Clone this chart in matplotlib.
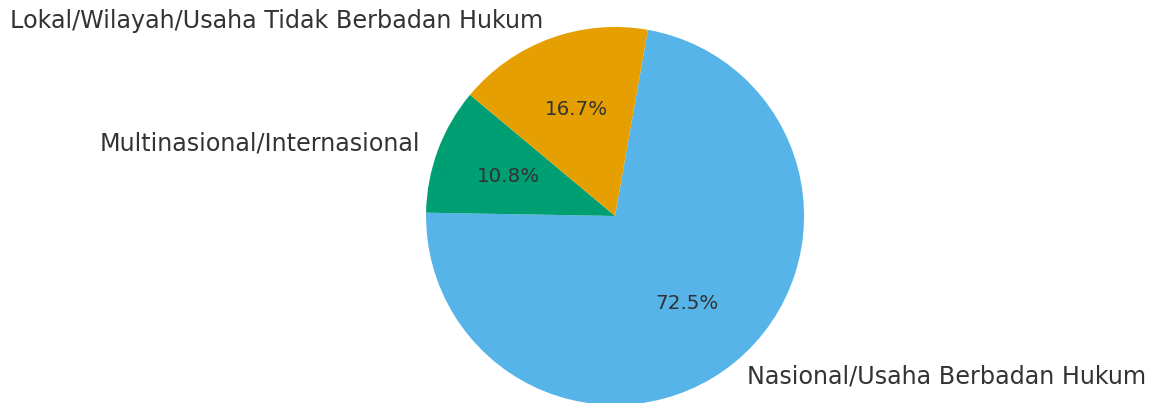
import matplotlib.pyplot as plt

# Data
labels = ['Nasional/Usaha Berbadan Hukum', 'Multinasional/Internasional',
          'Lokal/Wilayah/Usaha Tidak Berbadan Hukum']
shares = [72.5, 10.8, 16.7]
colors = ['#56B4E9', '#009E73', '#E69F00']

fig = plt.figure(figsize=(11.57, 4.03), dpi=100)
ax = fig.add_axes([0.3274, -0.1222, 0.4084, 1.1725])

wedges, texts, autotexts = ax.pie(shares, labels=labels, colors=colors,
                                  autopct='%1.1f%%', startangle=80,
                                  counterclock=False,
                                  textprops={'color': '#333333'})
for t in texts:
    t.set_fontsize(17.2)
for t in autotexts:
    t.set_fontsize(14.3)
ax.set_xlim(-1.25, 1.25)
ax.set_ylim(-1.25, 1.25)
ax.set_aspect('equal')

fig.savefig('out.png', dpi=100)
